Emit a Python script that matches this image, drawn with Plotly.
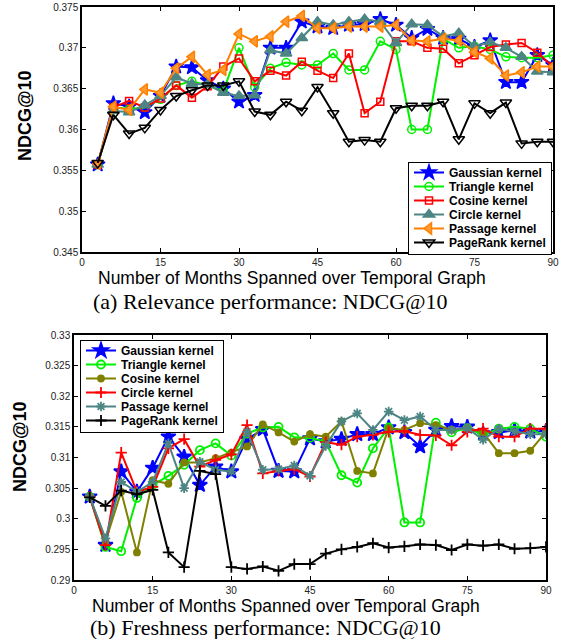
import plotly.graph_objects as go

months = list(range(3, 91, 3))

# (a) Relevance performance: NDCG@10
rel_gaussian = [0.3557, 0.3632, 0.3628, 0.3621, 0.3641, 0.3677, 0.3676, 0.3660, 0.3650, 0.3634,
                0.3642, 0.3700, 0.3700, 0.3732, 0.3726, 0.3724, 0.3728, 0.3729, 0.3735, 0.3728,
                0.3712, 0.3723, 0.3712, 0.3711, 0.3701, 0.3709, 0.3658, 0.3658, 0.3691, 0.3679]
rel_triangle = [0.3557, 0.3627, 0.3625, 0.3627, 0.3637, 0.3654, 0.3659, 0.3654, 0.3647, 0.3700,
                0.3652, 0.3675, 0.3682, 0.3679, 0.3679, 0.3693, 0.3673, 0.3673, 0.3708, 0.3698,
                0.3600, 0.3600, 0.3711, 0.3700, 0.3702, 0.3698, 0.3689, 0.3688, 0.3688, 0.3691]
rel_cosine = [0.3557, 0.3627, 0.3635, 0.3627, 0.3638, 0.3654, 0.3639, 0.3653, 0.3677, 0.3687,
              0.3659, 0.3672, 0.3666, 0.3683, 0.3672, 0.3663, 0.3693, 0.3620, 0.3634, 0.3708,
              0.3708, 0.3700, 0.3699, 0.3681, 0.3691, 0.3701, 0.3704, 0.3706, 0.3694, 0.3677]
rel_circle = [0.3557, 0.3623, 0.3621, 0.3630, 0.3641, 0.3664, 0.3656, 0.3655, 0.3645, 0.3641,
              0.3642, 0.3697, 0.3693, 0.3712, 0.3732, 0.3728, 0.3732, 0.3735, 0.3732, 0.3706,
              0.3729, 0.3728, 0.3714, 0.3718, 0.3702, 0.3707, 0.3700, 0.3689, 0.3671, 0.3670]
rel_passage = [0.3558, 0.3628, 0.3624, 0.3649, 0.3645, 0.3675, 0.3689, 0.3667, 0.3673, 0.3717,
               0.3708, 0.3714, 0.3732, 0.3739, 0.3724, 0.3724, 0.3726, 0.3726, 0.3726, 0.3728,
               0.3709, 0.3708, 0.3711, 0.3709, 0.3695, 0.3687, 0.3666, 0.3670, 0.3677, 0.3677]
rel_pagerank = [0.3559, 0.3618, 0.3595, 0.3602, 0.3624, 0.3641, 0.3648, 0.3654, 0.3654, 0.3659,
                0.3622, 0.3618, 0.3634, 0.3623, 0.3652, 0.3620, 0.3585, 0.3587, 0.3585, 0.3626,
                0.3629, 0.3629, 0.3634, 0.3588, 0.3632, 0.3620, 0.3633, 0.3583, 0.3585, 0.3585]

# (b) Freshness performance: NDCG@10
fre_gaussian = [0.3036, 0.2957, 0.3077, 0.3044, 0.3083, 0.3134, 0.3101, 0.3055, 0.3085, 0.3077,
                0.3130, 0.3146, 0.3078, 0.3077, 0.3131, 0.3126, 0.3130, 0.3138, 0.3138, 0.3149,
                0.3141, 0.3118, 0.3145, 0.3151, 0.3150, 0.3139, 0.3141, 0.3144, 0.3142, 0.3143]
fre_triangle = [0.3036, 0.2954, 0.2947, 0.3034, 0.3055, 0.3070, 0.3088, 0.3112, 0.3123, 0.3103,
                0.3139, 0.3149, 0.3150, 0.3133, 0.3132, 0.3126, 0.3071, 0.3059, 0.3115, 0.3149,
                0.2994, 0.2994, 0.3157, 0.3141, 0.3148, 0.3137, 0.3147, 0.3150, 0.3147, 0.3134]
fre_cosine = [0.3036, 0.2963, 0.3044, 0.2945, 0.3063, 0.3057, 0.3092, 0.3092, 0.3099, 0.3108,
              0.3118, 0.3154, 0.3141, 0.3126, 0.3138, 0.3134, 0.3159, 0.3078, 0.3074, 0.3148,
              0.3145, 0.3156, 0.3153, 0.3145, 0.3148, 0.3141, 0.3107, 0.3107, 0.3111, 0.3142]
fre_circle = [0.3036, 0.2957, 0.3108, 0.3044, 0.3052, 0.3115, 0.3130, 0.3085, 0.3096, 0.3105,
              0.3153, 0.3074, 0.3078, 0.3081, 0.3069, 0.3125, 0.3121, 0.3134, 0.3137, 0.3142,
              0.3143, 0.3137, 0.3136, 0.3120, 0.3142, 0.3147, 0.3134, 0.3134, 0.3147, 0.3147]
fre_passage = [0.3036, 0.2968, 0.3060, 0.3044, 0.3060, 0.3123, 0.3050, 0.3093, 0.3080, 0.3077,
               0.3142, 0.3080, 0.3081, 0.3087, 0.3070, 0.3119, 0.3159, 0.3172, 0.3145, 0.3175,
               0.3161, 0.3167, 0.3145, 0.3145, 0.3148, 0.3129, 0.3147, 0.3143, 0.3138, 0.3138]
fre_pagerank = [0.3035, 0.3021, 0.3046, 0.3040, 0.3047, 0.2945, 0.2921, 0.3078, 0.3073, 0.2921,
                0.2918, 0.2922, 0.2915, 0.2926, 0.2926, 0.2943, 0.2950, 0.2954, 0.2960, 0.2953,
                0.2955, 0.2958, 0.2957, 0.2949, 0.2958, 0.2956, 0.2958, 0.2951, 0.2952, 0.2954]

names = ["Gaussian kernel", "Triangle kernel", "Cosine kernel", "Circle kernel",
         "Passage kernel", "PageRank kernel"]
x_ticks = [0, 15, 30, 45, 60, 75, 90]

TEAL = "#4D8585"
GREEN = "#00F000"
fig = go.Figure()

top_series = [rel_gaussian, rel_triangle, rel_cosine, rel_circle, rel_passage, rel_pagerank]
top_styles = [
    dict(color="#0000FF", symbol="star", fill="#0000FF", size=11),
    dict(color=GREEN, symbol="circle-open", fill=None, size=8),
    dict(color="#FF0000", symbol="square-open", fill=None, size=7),
    dict(color=TEAL, symbol="triangle-up", fill=TEAL, size=10),
    dict(color="#FF8000", symbol="triangle-left", fill="#FF9A33", size=10),
    dict(color="#000000", symbol="triangle-down-open", fill=None, size=10),
]
for nm, ys, st in zip(names, top_series, top_styles):
    fig.add_trace(go.Scatter(
        x=months, y=ys, name=nm, mode="lines+markers", xaxis="x", yaxis="y",
        legend="legend",
        line=dict(color=st["color"], width=2),
        marker=dict(symbol=st["symbol"], size=st["size"],
                    color=st["fill"] if st["fill"] else st["color"],
                    line=dict(color=st["color"], width=1.5)),
    ))

bot_series = [fre_gaussian, fre_triangle, fre_cosine, fre_circle, fre_passage, fre_pagerank]
bot_styles = [
    dict(color="#0000FF", symbol="star", size=11),
    dict(color=GREEN, symbol="circle-open", size=8),
    dict(color="#808000", symbol="circle", size=6),
    dict(color="#FF0000", symbol="cross-thin-open", size=8),
    dict(color=TEAL, symbol="asterisk-open", size=8),
    dict(color="#000000", symbol="cross-thin-open", size=8),
]
for nm, ys, st in zip(names, bot_series, bot_styles):
    fig.add_trace(go.Scatter(
        x=months, y=ys, name=nm, mode="lines+markers", xaxis="x2", yaxis="y2",
        legend="legend2",
        line=dict(color=st["color"], width=2),
        marker=dict(symbol=st["symbol"], size=st["size"], color=st["color"],
                    line=dict(color=st["color"], width=1.8)),
    ))

W, H = 566, 639
sans = "Liberation Sans, Arial, sans-serif"
serif = "Liberation Serif, Times New Roman, serif"
tickfont = dict(family=sans, size=10, color="#222222")
axis_common = dict(showgrid=False, zeroline=False, showline=True, linecolor="black",
                   linewidth=1.5, mirror="ticks", ticks="inside", ticklen=4,
                   tickcolor="black", tickfont=tickfont, automargin=False)
legend_font = dict(family=sans, size=12, color="black", weight="bold")

fig.update_layout(
    width=W, height=H, margin=dict(l=0, r=0, t=0, b=0, pad=0, autoexpand=False),
    paper_bgcolor="white", plot_bgcolor="white",
    xaxis=dict(domain=[82 / W, 553 / W], anchor="y", range=[0, 90],
               tickvals=x_ticks, **axis_common),
    yaxis=dict(domain=[1 - 252 / H, 1 - 7 / H], anchor="x", range=[0.345, 0.375],
               dtick=0.005, tick0=0.345, **axis_common),
    xaxis2=dict(domain=[74 / W, 546 / W], anchor="y2", range=[0, 90],
                tickvals=x_ticks, **axis_common),
    yaxis2=dict(domain=[1 - 580 / H, 1 - 335 / H], anchor="x2", range=[0.29, 0.33],
                dtick=0.005, tick0=0.29, **axis_common),
    legend=dict(x=552 / W, y=1 - 162 / H, xanchor="right", yanchor="top",
                bgcolor="white", bordercolor="black", borderwidth=1,
                font=legend_font, tracegroupgap=0, itemwidth=30),
    legend2=dict(x=80 / W, y=1 - 340 / H, xanchor="left", yanchor="top",
                 bgcolor="white", bordercolor="black", borderwidth=1,
                 font=legend_font, tracegroupgap=0, itemwidth=30),
    showlegend=True,
)

annotations = [
    dict(text="NDCG@10", x=25 / W, y=1 - 116 / H, textangle=-90,
         font=dict(family=sans, size=18, color="black", weight="bold")),
    dict(text="NDCG@10", x=20 / W, y=1 - 447 / H, textangle=-90,
         font=dict(family=sans, size=18, color="black", weight="bold")),
    dict(text="Number of Months Spanned over Temporal Graph", x=292 / W, y=1 - 278 / H,
         font=dict(family=sans, size=17.5, color="black")),
    dict(text="(a) Relevance performance: NDCG@10", x=270 / W, y=1 - 301 / H,
         font=dict(family=serif, size=22, color="black")),
    dict(text="Number of Months Spanned over Temporal Graph", x=286 / W, y=1 - 606 / H,
         font=dict(family=sans, size=17.5, color="black")),
    dict(text="(b) Freshness performance: NDCG@10", x=265 / W, y=1 - 627 / H,
         font=dict(family=serif, size=22, color="black")),
]
for a in annotations:
    fig.add_annotation(xref="paper", yref="paper", showarrow=False,
                       xanchor="center", yanchor="middle", **a)

# Page tweaks: no body margin, and tighter legend rows (MATLAB-like spacing).
post_js = r"""
document.documentElement.style.margin='0';
document.body.style.margin='0';
document.body.style.padding='0';
var gd = document.getElementById('{plot_id}');
gd.querySelectorAll('g.legend, g.legend2').forEach(function(lg){
  var items = lg.querySelectorAll('g.traces');
  if(items.length < 2) return;
  var pos = [];
  items.forEach(function(t){
    var m = /translate\(\s*([-\d.e]+)[ ,]+([-\d.e]+)\s*\)/.exec(t.getAttribute('transform') || '');
    pos.push(m ? [parseFloat(m[1]), parseFloat(m[2])] : [0, 0]);
  });
  var step = 14, old = pos[1][1] - pos[0][1];
  if(!(old > step)) return;
  items.forEach(function(t, i){
    t.setAttribute('transform', 'translate(' + pos[i][0] + ',' + (pos[0][1] - 5 + i * step) + ')');
  });
  var shrink = (old - step) * (items.length - 1) + 8;
  var bg = lg.querySelector('rect.bg');
  if(bg){ bg.setAttribute('height', parseFloat(bg.getAttribute('height')) - shrink); }
});
"""
fig.write_html("out.html", post_script=post_js, config={"displayModeBar": False})
